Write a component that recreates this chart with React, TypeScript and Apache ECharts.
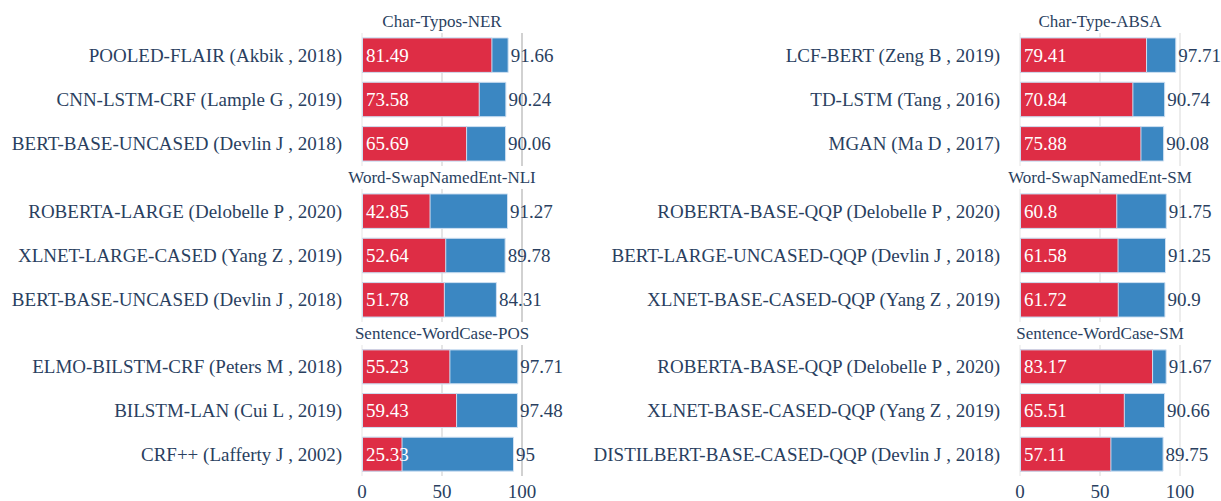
import React, { useEffect, useRef } from "react";
import * as echarts from "echarts";

const panelTitles = [
  "Char-Typos-NER",
  "Word-SwapNamedEnt-NLI",
  "Sentence-WordCase-POS",
  "Char-Type-ABSA",
  "Word-SwapNamedEnt-SM",
  "Sentence-WordCase-SM",
];

const panelModels = [
  ["POOLED-FLAIR (Akbik , 2018)", "CNN-LSTM-CRF (Lample G , 2019)", "BERT-BASE-UNCASED (Devlin J , 2018)"],
  ["ROBERTA-LARGE (Delobelle P , 2020)", "XLNET-LARGE-CASED (Yang Z , 2019)", "BERT-BASE-UNCASED (Devlin J , 2018)"],
  ["ELMO-BILSTM-CRF (Peters M , 2018)", "BILSTM-LAN (Cui L , 2019)", "CRF++ (Lafferty J , 2002)"],
  ["LCF-BERT (Zeng B , 2019)", "TD-LSTM (Tang , 2016)", "MGAN (Ma D , 2017)"],
  ["ROBERTA-BASE-QQP (Delobelle P , 2020)", "BERT-LARGE-UNCASED-QQP (Devlin J , 2018)", "XLNET-BASE-CASED-QQP (Yang Z , 2019)"],
  ["ROBERTA-BASE-QQP (Delobelle P , 2020)", "XLNET-BASE-CASED-QQP (Yang Z , 2019)", "DISTILBERT-BASE-CASED-QQP (Devlin J , 2018)"],
];

const robustScores = [
  [81.49, 73.58, 65.69],
  [42.85, 52.64, 51.78],
  [55.23, 59.43, 25.33],
  [79.41, 70.84, 75.88],
  [60.8, 61.58, 61.72],
  [83.17, 65.51, 57.11],
];

const originalScores = [
  [91.66, 90.24, 90.06],
  [91.27, 89.78, 84.31],
  [97.71, 97.48, 95],
  [97.71, 90.74, 90.08],
  [91.75, 91.25, 90.9],
  [91.67, 90.66, 89.75],
];

const xTicks = [0, 50, 100];

const TEXT = "#2a3f5f";
const RED = "#de2d45";
const BLUE = "#3b87c2";
const FONT = "'Liberation Serif', 'Times New Roman', serif";

export default function App() {
  const ref = useRef<HTMLDivElement>(null);
  useEffect(() => {
    if (!ref.current) return;
    const chart = echarts.init(ref.current, undefined, { renderer: "svg" });
    const tops = [33, 189, 345];
    const panelH = 133;
    const grids: any[] = [];
    const xAxes: any[] = [];
    const yAxes: any[] = [];
    const series: any[] = [];
    const titles: any[] = [];
    for (let i = 0; i < 6; i++) {
      const col = i < 3 ? 0 : 1;
      const row = i % 3;
      const left = col === 0 ? 362 : 1020;
      const width = 160;
      grids.push({ left, top: tops[row], width, height: panelH });
      titles.push({
        text: panelTitles[i],
        left: left + width / 2,
        top: tops[row] - 20,
        textAlign: "center",
        padding: 0,
        textStyle: { fontFamily: FONT, fontSize: 17, fontWeight: "normal", color: TEXT },
      });
      xAxes.push({
        type: "value",
        gridIndex: i,
        min: 0,
        max: 100,
        interval: 50,
        axisLine: { show: false },
        axisTick: { show: false },
        axisLabel: {
          show: row === 2,
          margin: 6,
          fontFamily: FONT,
          fontSize: 19,
          color: TEXT,
          formatter: (v: number) => (xTicks.includes(v) ? String(v) : ""),
        },
        splitLine: {
          show: true,
          lineStyle: {
            color: col === 0 ? ["#eeeeee", "#dddddd", "#c2c2c2"] : ["#eeeeee", "#e6e6e6", "#e6e6e6"],
            width: 1.5,
          },
        },
      });
      yAxes.push({
        type: "category",
        gridIndex: i,
        inverse: true,
        data: panelModels[i],
        axisLine: { show: false },
        axisTick: { show: false },
        axisLabel: { margin: 20, fontFamily: FONT, fontSize: 19, color: TEXT },
      });
      series.push({
        type: "bar",
        xAxisIndex: i,
        yAxisIndex: i,
        data: originalScores[i],
        barCategoryGap: "20%",
        barGap: "-100%",
        itemStyle: { color: BLUE, borderColor: "#cfe0f2", borderWidth: 1 },
        label: {
          show: true,
          position: "right",
          distance: 2,
          fontFamily: FONT,
          fontSize: 19,
          color: TEXT,
        },
      });
      series.push({
        type: "bar",
        xAxisIndex: i,
        yAxisIndex: i,
        data: robustScores[i],
        barCategoryGap: "20%",
        barGap: "-100%",
        itemStyle: { color: RED, borderColor: "#cfe0f2", borderWidth: 1 },
        label: {
          show: true,
          position: "insideLeft",
          distance: 4,
          fontFamily: FONT,
          fontSize: 19,
          color: "#ffffff",
        },
      });
    }
    chart.setOption({
      animation: false,
      backgroundColor: "#ffffff",
      title: titles,
      grid: grids,
      xAxis: xAxes,
      yAxis: yAxes,
      series,
    });
    return () => chart.dispose();
  }, []);
  return (
    <div
      ref={ref}
      style={{ position: "fixed", left: 0, top: 0, width: 1221, height: 501 }}
    />
  );
}
